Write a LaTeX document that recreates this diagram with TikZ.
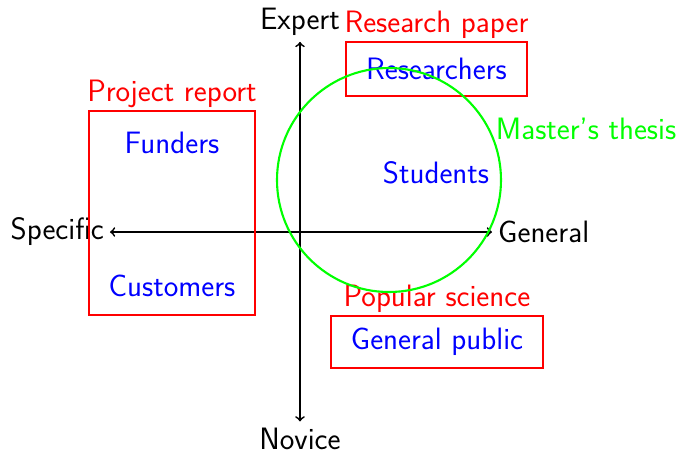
\documentclass[tikz,border=0pt]{standalone}
\usepackage{tikz}

\begin{document}
\begin{tikzpicture}[font=\sffamily\fontsize{17.6}{21}\selectfont,
  genre/.style={draw=red,line width=1.1pt,label={[red,inner sep=1pt]above:#1}},
  reader/.style={text=blue}]
\useasboundingbox (-6,-4.44) rectangle (7.62,4.64);
% axes
\node (expert) at (0,4.2) {Expert};
\node (novice) at (0,-4.13) {Novice};
\node[anchor=east] (specific) at (-3.8,0) {Specific};
\node[anchor=west] (general) at (3.84,0) {General};
\draw[line width=1pt,<->] (specific) -- (general);
\draw[line width=1pt,<->] (expert) -- (novice);
% readers and genres
\node[genre=Research paper,reader,minimum width=3.62cm,minimum height=1.08cm] (paper) at (2.73,3.26) {Researchers};
\node[genre=Project report,minimum width=3.32cm,minimum height=4.08cm] (report) at (-2.56,0.38) {};
\node[reader] (funders) at (-2.56,1.78) {Funders};
\node[reader] (customers) at (-2.56,-1.08) {Customers};
\node[genre=Popular science,reader,minimum width=4.24cm,minimum height=1.04cm] (popular) at (2.74,-2.2) {General public};
\node[reader] (students) at (2.72,1.18) {Students};
\node[draw=green,line width=1.2pt,circle,minimum size=4.48cm] (thesis) at (1.78,1.04) {};
\node[anchor=west,text=green] (thesislabel) at (thesis.27) {Master's thesis};
\end{tikzpicture}
\end{document}
